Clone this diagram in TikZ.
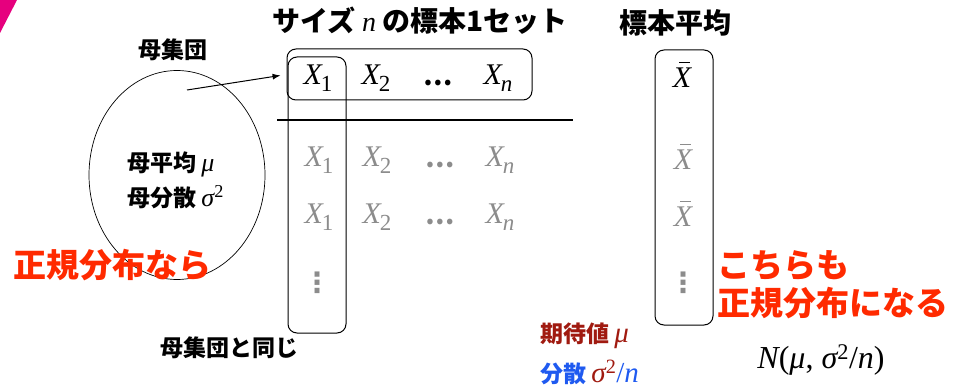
\documentclass[tikz,border=0pt]{standalone}
\usepackage{fontspec}
\setmainfont{Liberation Serif}
\newfontfamily\tms{Liberation Serif}
\newfontfamily\jp{Noto Sans CJK JP}
\newfontfamily\dvs{DejaVu Sans}
\usetikzlibrary{shapes.geometric,arrows.meta}
\definecolor{cornermag}{HTML}{E6007E}
\definecolor{hotred}{HTML}{FF2A00}
\definecolor{dred}{HTML}{A01A10}
\definecolor{dblue}{HTML}{1F5AF0}
\definecolor{ggray}{HTML}{8C8C8C}
\newcommand\mi[1]{{\tms\itshape #1}}
\newcommand\Xs[1]{\mi{X}\kern-0.04em\raisebox{-6.5pt}{\fontsize{23}{27}\selectfont #1}}
\newcommand\Xbar{\makebox[0pt][l]{\kern0.22em\raisebox{0.83em}{\rule{0.34em}{0.05em}}}\mi{X}}
\begin{document}
\begin{tikzpicture}[x=1pt,y=-1pt,
  lab/.style={inner sep=0pt, font=\jp\bfseries\fontsize{23}{35}\selectfont},
  ttl/.style={inner sep=0pt, font=\jp\bfseries\fontsize{28}{33}\selectfont},
  redtxt/.style={inner sep=0pt, text=hotred, font=\jp\bfseries\fontsize{33}{38}\selectfont},
  mth/.style={inner sep=0pt, font=\tms\fontsize{30}{34}\selectfont, anchor=base},
  gmth/.style={mth, text=ggray},
  dts/.style={inner sep=0pt, font=\jp\bfseries\fontsize{26}{30}\selectfont, anchor=base},
  vdt/.style={inner sep=0pt, text=ggray, font=\dvs\bfseries\fontsize{28}{30}\selectfont},
  rbox/.style={draw, rounded corners=9pt, line width=1pt, inner sep=0pt},
]
\useasboundingbox (0,0) rectangle (953,390);
\fill[cornermag] (0,0) -- (17,0) -- (0,33) -- cycle;
% population
\node[lab] (popl) at (173,50) {母集団};
\node[draw, ellipse, line width=0.7pt, minimum width=176pt, minimum height=209pt, inner sep=0pt] (pop) at (177,175) {};
\node[lab, align=left, anchor=west] (params) at (127,180) {母平均 {\tms\mdseries\itshape\fontsize{26}{30}\selectfont μ}\\母分散 {\tms\mdseries\itshape\fontsize{26}{30}\selectfont σ\textsuperscript{\upshape 2}}};
% boxes
\node[rbox, minimum width=245pt, minimum height=51pt] (rowbox) at (409.5,74.5) {};
\node[rbox, minimum width=58pt, minimum height=276pt] (colbox) at (317,195) {};
\node[rbox, minimum width=58pt, minimum height=275pt] (barbox) at (684,187.5) {};
\coordinate (hlA) at (277,120);
\coordinate (hlB) at (573,120);
\draw[line width=1.2pt] (hlA) -- (hlB);
\coordinate (arrS) at (187,90);
\draw[line width=1pt, -{Latex[length=8pt,width=6pt]}, shorten >=6pt] (arrS) -- (rowbox.west);
% top row
\node[mth] (a1) at (318,85) {\Xs{1}};
\node[mth] (a2) at (376,85) {\Xs{2}};
\node[dts] (a3) at (438,86) {…};
\node[mth] (an) at (498,85) {\Xs{\itshape n}};
\node[mth] (ab) at (682,88) {\Xbar};
% gray rows
\node[gmth] (b1) at (319,167) {\Xs{1}};
\node[gmth] (b2) at (377,167) {\Xs{2}};
\node[dts, text=ggray] (b3) at (440,168) {…};
\node[gmth] (bn) at (500,167) {\Xs{\itshape n}};
\node[gmth] (bb) at (683,170) {\Xbar};
\node[gmth] (c1) at (319,224) {\Xs{1}};
\node[gmth] (c2) at (377,224) {\Xs{2}};
\node[dts, text=ggray] (c3) at (440,225) {…};
\node[gmth] (cn) at (500,224) {\Xs{\itshape n}};
\node[gmth] (cb) at (683,227) {\Xbar};
\node[vdt] (d1) at (317,283) {⋮};
\node[vdt] (db) at (683,283) {⋮};
% titles
\node[ttl] (title) at (420,21) {サイズ {\tms\mdseries\itshape n} の標本1セット};
\node[ttl] (meanl) at (675,23) {標本平均};
% red notes
\node[redtxt, anchor=west] (normL) at (13,265) {正規分布なら};
\node[redtxt, anchor=west, align=left] (normR) at (717,285) {こちらも\\正規分布になる};
% bottom labels
\node[lab, anchor=west, text=dred] (ev) at (540,336) {期待値 {\tms\mdseries\fontsize{29}{32}\selectfont\itshape μ}};
\node[lab, anchor=west, text=dblue] (var) at (540,372) {分散 {\tms\mdseries\fontsize{29}{32}\selectfont\itshape\textcolor{dred}{σ\textsuperscript{\upshape 2}}\upshape/\itshape n}};
\node[mth, anchor=center, font=\tms\fontsize{32}{36}\selectfont] (dist) at (821,360) {\mi{N}(\mi{μ}, \mi{σ}\textsuperscript{2}/\mi{n})};
\node[lab] (same) at (229,348) {母集団と同じ};
\end{tikzpicture}
\end{document}
